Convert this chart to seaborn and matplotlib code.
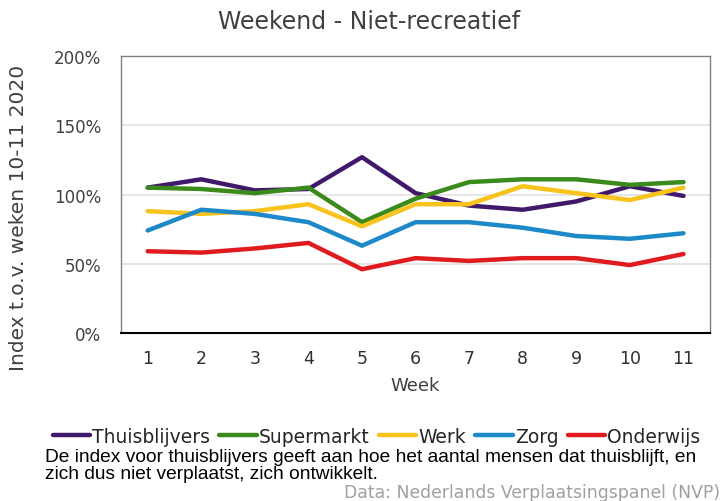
import numpy as np
import pandas as pd
import matplotlib
matplotlib.use("Agg")
import matplotlib.pyplot as plt
import seaborn as sns

# Data (index in %)
weeks = [1, 2, 3, 4, 5, 6, 7, 8, 9, 10, 11]
thuisblijvers = [105, 111, 103, 104, 127, 101, 92, 89, 95, 106, 99]
supermarkt = [105, 104, 101, 105, 80, 97, 109, 111, 111, 107, 109]
werk = [88, 86, 88, 93, 77, 93, 93, 106, 101, 96, 105]
zorg = [74, 89, 86, 80, 63, 80, 80, 76, 70, 68, 72]
onderwijs = [59, 58, 61, 65, 46, 54, 52, 54, 54, 49, 57]

series_names = ["Thuisblijvers", "Supermarkt", "Werk", "Zorg", "Onderwijs"]
colors = ["#41196b", "#3a8a1c", "#f7c31c", "#1d89c8", "#e01b1f"]

df = pd.DataFrame({"week": weeks, "Thuisblijvers": thuisblijvers,
                   "Supermarkt": supermarkt, "Werk": werk,
                   "Zorg": zorg, "Onderwijs": onderwijs})
long_df = df.melt(id_vars="week", var_name="reeks", value_name="index")

sns.set_style("white")
plt.rcParams['font.family'] = ['DejaVu Sans']

fig = plt.figure(figsize=(7.24, 5.02), dpi=100)
ax = fig.add_axes([0.167, 0.335, 0.814, 0.551])

sns.lineplot(data=long_df, x="week", y="index", hue="reeks",
             hue_order=series_names, palette=colors, linewidth=3.2,
             ax=ax, legend=False)

ax.set_xlim(0.5, 11.5)
ax.set_ylim(0, 200)
ax.set_yticks([0, 50, 100, 150, 200])
ax.set_yticklabels([f"{v}%" for v in [0, 50, 100, 150, 200]])
ax.set_xticks(weeks)
ax.set_xticks(np.arange(0.5, 12, 1), minor=True)
ax.tick_params(axis="x", which="major", length=0, pad=12, labelsize=12.5, colors="#303030")
ax.tick_params(axis="x", which="minor", length=7, width=1.2, color="black", direction="out")
ax.tick_params(axis="y", length=0, labelsize=12, colors="#404040", pad=14)
ax.yaxis.grid(True, color="#e2e2e2", linewidth=1.2)
ax.set_axisbelow(True)

for side in ["top", "right", "left"]:
    ax.spines[side].set_color("#808080")
    ax.spines[side].set_linewidth(1.0)
ax.spines["bottom"].set_color("black")
ax.spines["bottom"].set_linewidth(1.5)

ax.set_xlabel("Week", fontsize=13, color="#404040", labelpad=6)
ax.set_ylabel("Index t.o.v. weken 10-11 2020", fontsize=14.5, color="#404040")
ax.yaxis.set_label_coords(-0.158, 0.42)
fig.suptitle("Weekend - Niet-recreatief", x=0.51, y=0.98, fontsize=17, color="#404040")

handles = [plt.Line2D([0], [0], color=c, linewidth=3.2) for c in colors]
fig.legend(handles, series_names, loc="center", bbox_to_anchor=(0.52, 0.129),
           ncol=5, frameon=False, fontsize=13.5, handlelength=2.0,
           handletextpad=0.1, columnspacing=0.5)

fig.text(0.062, 0.072, "De index voor thuisblijvers geeft aan hoe het aantal mensen dat thuisblijft, en\n"
         "zich dus niet verplaatst, zich ontwikkelt.", fontsize=13.8, color="black",
         family="Liberation Sans", va="center", linespacing=1.0)
fig.text(0.995, 0.0, "Data: Nederlands Verplaatsingspanel (NVP)", fontsize=12.4,
         color="#a0a0a0", ha="right", va="bottom")

fig.savefig("out.png", dpi=100)
